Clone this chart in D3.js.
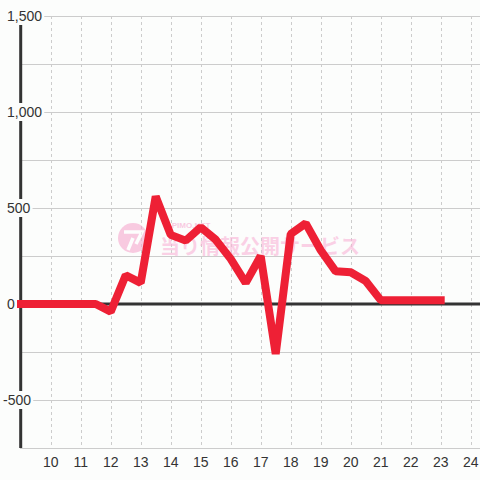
<!DOCTYPE html>
<html><head><meta charset="utf-8">
<script src="https://cdn.jsdelivr.net/npm/d3@7"></script>
<style>html,body{margin:0;padding:0;background:#fcfdfc;}svg{display:block;}</style>
</head><body>
<svg id="c" width="480" height="480"></svg>
<script>
const hours = [9, 9.5, 10, 10.5, 11, 11.5, 12, 12.5, 13, 13.5, 14, 14.5, 15, 15.5, 16, 16.5, 17, 17.5, 18, 18.5, 19, 19.5, 20, 20.5, 21, 21.5, 22, 22.5, 23];
const values = [0, 0, 0, 0, 0, 0, -40, 150, 110, 560, 360, 330, 400, 335, 235, 110, 250, -260, 365, 420, 280, 170, 165, 120, 20, 20, 20, 20, 20];
const xTicks = [10, 11, 12, 13, 14, 15, 16, 17, 18, 19, 20, 21, 22, 23, 24];
const yGrid = [-750, -500, -250, 0, 250, 500, 750, 1000, 1250, 1500];
const yLabels = [-500, 0, 500, 1000, 1500];

const svg = d3.select("#c");
const x = d3.scaleLinear().domain([9, 24]).range([20.7, 470.7]);
const y = d3.scaleLinear().domain([-750, 1500]).range([448, 16]);
const W = 480;

svg.append("rect").attr("width", 480).attr("height", 480).attr("fill", "#fcfdfc");

// horizontal grid
svg.append("g").selectAll("line").data(yGrid).join("line")
  .attr("x1", 20).attr("x2", W)
  .attr("y1", d => Math.round(y(d)) + 0.5).attr("y2", d => Math.round(y(d)) + 0.5)
  .attr("stroke", "#cccccc").attr("stroke-width", 1);

// vertical dashed grid
svg.append("g").selectAll("line").data(xTicks).join("line")
  .attr("x1", d => Math.round(x(d)) + 0.5).attr("x2", d => Math.round(x(d)) + 0.5)
  .attr("y1", y(1500)).attr("y2", y(-750))
  .attr("stroke", "#cccccc").attr("stroke-width", 1).attr("stroke-dasharray", "3,3");

// watermark
const wm = svg.append("g").attr("opacity", 0.6);
wm.append("circle").attr("cx", 133).attr("cy", 238).attr("r", 15).attr("fill", "#f7a9cf");
wm.append("path").attr("d", "M124,232 L142,232 L136,244 M133,238 L128,250").attr("stroke", "#fff").attr("stroke-width", 3.5).attr("fill", "none");
wm.append("text").attr("x", 166).attr("y", 228).attr("font-family", "Liberation Sans, Arial, sans-serif").attr("font-size", 8).attr("font-weight", "bold").attr("fill", "#f7a9cf").text("APIMO.NET");
wm.append("text").attr("x", 160).attr("y", 254).attr("font-family", "Noto Sans CJK JP, sans-serif").attr("font-size", 20).attr("font-weight", "bold").attr("fill", "#f9b3d6").text("当り情報公開サービス");

// zero line
svg.append("line").attr("x1", 20).attr("x2", W).attr("y1", y(0)).attr("y2", y(0))
  .attr("stroke", "#333333").attr("stroke-width", 3);

// y axis
svg.append("line").attr("x1", 20.7).attr("x2", 20.7).attr("y1", y(1500)).attr("y2", y(-750))
  .attr("stroke", "#333333").attr("stroke-width", 3);

// data line
const line = d3.line().x((d, i) => x(hours[i])).y(d => y(d));
svg.append("path").datum(values).attr("d", line)
  .attr("fill", "none").attr("stroke", "#ee2035").attr("stroke-width", 8)
  .attr("stroke-linecap", "square").attr("stroke-linejoin", "bevel");

// x labels
svg.append("g").selectAll("text").data(xTicks).join("text")
  .attr("x", d => x(d)).attr("y", 467).attr("text-anchor", "middle")
  .attr("font-family", "Liberation Sans, Arial, sans-serif").attr("font-size", 14)
  .attr("fill", "#333333").text(d => d);

// y labels with background
const fmt = d => d3.format(",")(d).replace("\u2212", "-");
const yl = svg.append("g").selectAll("g").data(yLabels).join("g");
yl.each(function(d) {
  const g = d3.select(this);
  const t = g.append("text").attr("x", d < 0 ? 3 : 7).attr("y", y(d) + 5)
    .attr("font-family", "Liberation Sans, Arial, sans-serif").attr("font-size", 14)
    .attr("fill", "#333333").text(fmt(d));
  const b = t.node().getBBox();
  g.insert("rect", "text").attr("x", b.x - 2).attr("y", b.y - 1)
    .attr("width", b.width + 4).attr("height", b.height + 2).attr("fill", "#fcfdfc");
});
</script>
</body></html>
